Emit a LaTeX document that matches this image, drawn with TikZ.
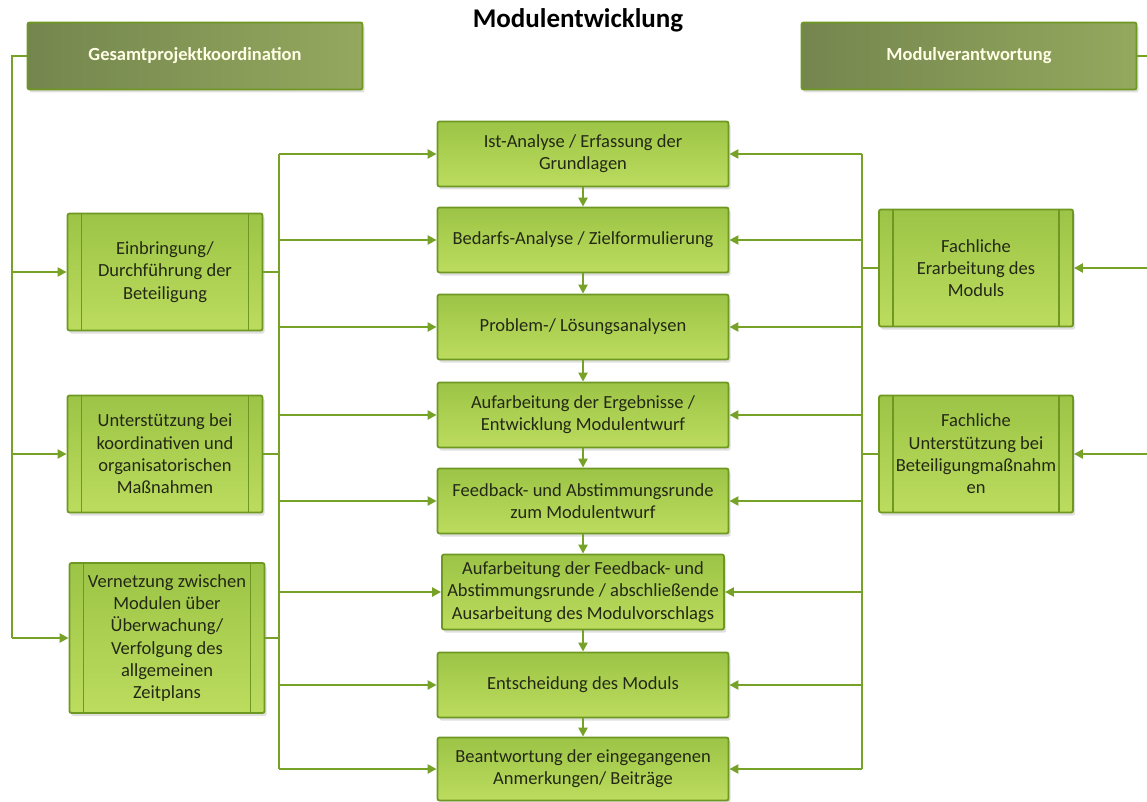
\documentclass[tikz,border=0pt]{standalone}
\usepackage{fontspec}
\setmainfont{Carlito}
\usetikzlibrary{arrows.meta,shadows}
\definecolor{LineGreen}{RGB}{118,162,40}
\definecolor{BoxTop}{RGB}{156,196,70}
\definecolor{BoxBottom}{RGB}{188,220,94}
\definecolor{BoxEdge}{RGB}{110,152,34}
\definecolor{HeadLeft}{RGB}{116,134,78}
\definecolor{HeadRight}{RGB}{148,168,94}
\definecolor{TextDark}{RGB}{36,40,22}

\tikzset{
  conn/.style={LineGreen, line width=2.5pt},
  arr/.style={conn, -{Triangle[length=9pt,width=9pt]}},
  stepbox/.style={draw=BoxEdge, line width=1.8pt, rounded corners=2pt,
    top color=BoxTop, bottom color=BoxBottom, text=TextDark, align=center,
    inner sep=1pt, font=\fontsize{18.5}{22.3}\selectfont,
    minimum width=291pt, minimum height=65pt,
    drop shadow={shadow xshift=2pt, shadow yshift=-3pt, opacity=0.25}},
  sidebox/.style={stepbox, minimum width=195pt, minimum height=117pt,
    path picture={
      \draw[BoxEdge, line width=1.8pt]
        ([xshift=14pt]path picture bounding box.north west) -- ([xshift=14pt]path picture bounding box.south west)
        ([xshift=-14pt]path picture bounding box.north east) -- ([xshift=-14pt]path picture bounding box.south east);}},
  headbox/.style={stepbox, left color=HeadLeft, right color=HeadRight,
    text=white!90!yellow, font=\fontsize{18.5}{22}\selectfont\bfseries,
    minimum width=335pt, minimum height=67pt}
}

\begin{document}
\begin{tikzpicture}[x=1pt,y=-1pt]
    \useasboundingbox (0,0) rectangle (1147,802);

    \node[font=\fontsize{27}{30}\selectfont\bfseries] (title) at (578,20) {Modulentwicklung};

    \node[headbox] (gesamt) at (195,56) {Gesamtprojektkoordination};
    \node[headbox] (verantw) at (969,56) {Modulverantwortung};

    % middle column
    \node[stepbox] (ist) at (583,154) {Ist-Analyse / Erfassung der\\Grundlagen};
    \node[stepbox] (bedarf) at (583,240) {Bedarfs-Analyse / Zielformulierung};
    \node[stepbox] (problem) at (583,327) {Problem-/ Lösungsanalysen};
    \node[stepbox] (ergebnis) at (583,415) {Aufarbeitung der Ergebnisse /\\Entwicklung Modulentwurf};
    \node[stepbox] (feedback) at (583,501) {Feedback- und Abstimmungsrunde\\zum Modulentwurf};
    \node[stepbox, minimum width=282pt, minimum height=75pt] (abschluss) at (583,592)
        {Aufarbeitung der Feedback- und\\Abstimmungsrunde / abschließende\\Ausarbeitung des Modulvorschlags};
    \node[stepbox] (entscheid) at (583,685) {Entscheidung des Moduls};
    \node[stepbox, minimum height=63pt] (antwort) at (583,769) {Beantwortung der eingegangenen\\Anmerkungen/ Beiträge};

    % left column
    \node[sidebox] (einbring) at (165,272) {Einbringung/\\Durchführung der\\Beteiligung};
    \node[sidebox] (unterst) at (165,454) {Unterstützung bei\\koordinativen und\\organisatorischen\\Maßnahmen};
    \node[sidebox, minimum height=150pt] (vernetz) at (167,638)
        {Vernetzung zwischen\\Modulen über\\Überwachung/\\Verfolgung des\\allgemeinen\\Zeitplans};

    % right column
    \node[sidebox, minimum width=194pt] (fachErarb) at (976,268) {Fachliche\\Erarbeitung des\\Moduls};
    \node[sidebox, minimum width=194pt] (fachUnter) at (976,454) {Fachliche\\Unterstützung bei\\Beteiligungmaßnahm\\en};

    \coordinate (lrail) at (12,0);
    \coordinate (mlrail) at (279,0);
    \coordinate (mrrail) at (862,0);
    \coordinate (rrail) at (1150,0);

    % outer feeds
    \draw[conn] (gesamt.west) -| (lrail |- vernetz.west);
    \foreach \n in {einbring,unterst,vernetz}
        \draw[arr] (lrail |- \n.west) -- (\n.west);
    \draw[conn] (verantw.east) -| (rrail |- fachUnter.east);
    \foreach \n in {fachErarb,fachUnter}
        \draw[arr] (rrail |- \n.east) -- (\n.east);

    % buses to the middle column
    \draw[conn] (mlrail |- ist.west) -- (mlrail |- antwort.west);
    \draw[conn] (mrrail |- ist.east) -- (mrrail |- antwort.east);
    \foreach \n in {einbring,unterst,vernetz}
        \draw[conn] (\n.east) -- (mlrail |- \n.east);
    \foreach \n in {fachErarb,fachUnter}
        \draw[conn] (\n.west) -- (mrrail |- \n.west);
    \foreach \n in {ist,bedarf,problem,ergebnis,feedback,abschluss,entscheid,antwort} {
        \draw[arr] (mlrail |- \n.west) -- (\n.west);
        \draw[arr] (mrrail |- \n.east) -- (\n.east);
    }

    \foreach \a/\b in {ist/bedarf,bedarf/problem,problem/ergebnis,ergebnis/feedback,feedback/abschluss,abschluss/entscheid,entscheid/antwort}
        \draw[arr] (\a.south) -- (\b.north);
\end{tikzpicture}
\end{document}
